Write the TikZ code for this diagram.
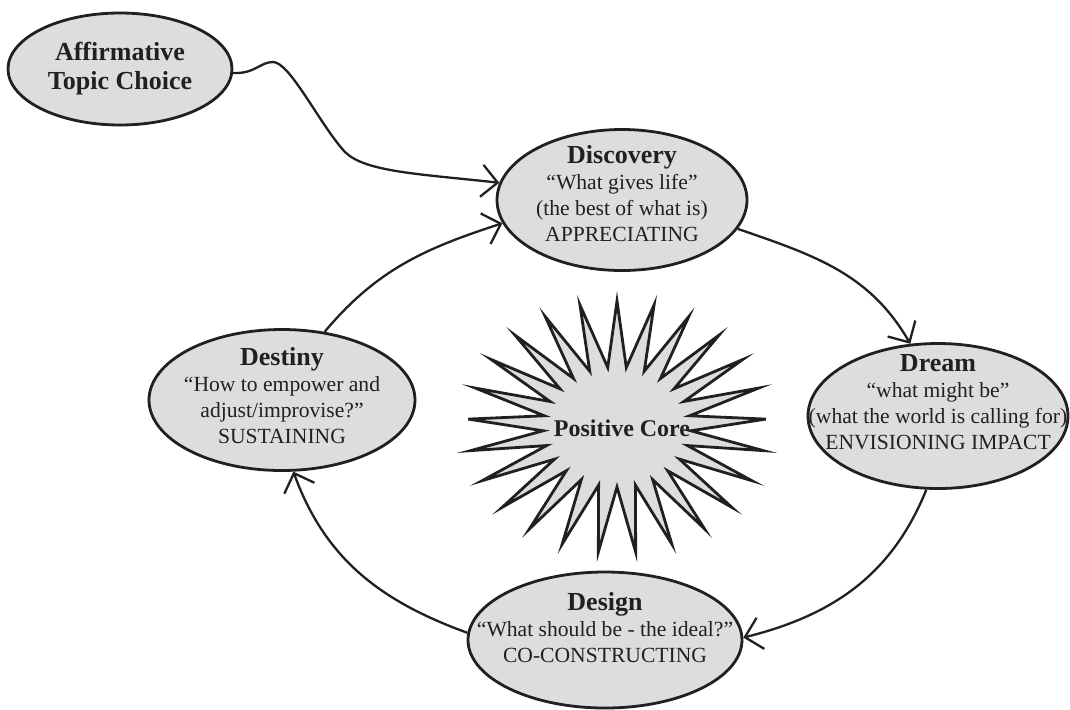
\documentclass[tikz,border=0pt]{standalone}
\usepackage{fontspec}
\setmainfont{Liberation Serif}
\usetikzlibrary{shapes.geometric,arrows.meta}
\definecolor{ink}{HTML}{231F20}
\definecolor{shade}{HTML}{DCDDDF}
\newcommand{\phasename}[1]{{\fontsize{13}{15}\selectfont\bfseries #1}}
\begin{document}
\begin{tikzpicture}[
   x=0.5pt,y=0.5pt,
   phase/.style={ellipse,draw=ink,line width=1.4pt,fill=shade,inner sep=0pt},
   words/.style={align=center,text=ink,font=\fontsize{10.8}{13}\selectfont},
   flow/.style={-{Straight Barb[length=8pt,width=16pt]},line width=1.15pt,draw=ink},
   core/.style={draw=ink,line width=1.4pt,fill=shade,line join=miter}]
\useasboundingbox (0,0) rectangle (1070,-709);
% the positive core
\filldraw[core] plot[samples at={0,...,49},variable=\k]
   ({617+(149-75*mod(\k,2))*cos(90+7.2*\k)},{-427+(126-66*mod(\k,2))*sin(90+7.2*\k)}) -- cycle;
\node[text=ink,font=\fontsize{12}{14}\selectfont\bfseries] (core) at (622,-428) {Positive Core};
% the phases
\node[phase,minimum width=112pt,minimum height=56pt,
   label={[words,name=topicT,font=\fontsize{13}{14.5}\selectfont\bfseries]center:{Affirmative\\Topic Choice}}] (topic) at (120,-69) {};
\node[phase,minimum width=125pt,minimum height=70.5pt,
   label={[words,name=discT,yshift=3pt]center:{\phasename{Discovery}\\“What gives life”\\(the best of what is)\\APPRECIATING}}] (disc) at (622,-200) {};
\node[phase,minimum width=130pt,minimum height=72.5pt,
   label={[words,name=dreamT,yshift=7pt]center:{\phasename{Dream}\\“what might be”\\(what the world is calling for)\\ENVISIONING IMPACT}}] (dream) at (938,-416) {};
\node[phase,minimum width=137pt,minimum height=68pt,
   label={[words,name=designT,yshift=6pt]center:{\phasename{Design}\\“What should be - the ideal?”\\CO-CONSTRUCTING}}] (design) at (605,-640) {};
\node[phase,minimum width=133pt,minimum height=70.5pt,
   label={[words,name=destT,yshift=2pt]center:{\phasename{Destiny}\\“How to empower and\\adjust/improvise?”\\SUSTAINING}}] (dest) at (282,-400) {};
% the cycle
\draw[flow] (topic.-2) .. controls (255,-74) and (260,-62) .. (273,-62)
   .. controls (290,-62) and (320,-125) .. (345,-152)
   .. controls (365,-172) and (420,-174) .. (disc.172);
\draw[flow] (disc.346) to[out=-19,in=120] (dream.111);
\draw[flow] (dream.261) to[out=-112,in=14] (design.1);
\draw[flow] (design.177) to[out=160,in=-70] (dest.279);
\draw[flow] (dest.58) to[out=50,in=198] (disc.191);
\end{tikzpicture}
\end{document}
